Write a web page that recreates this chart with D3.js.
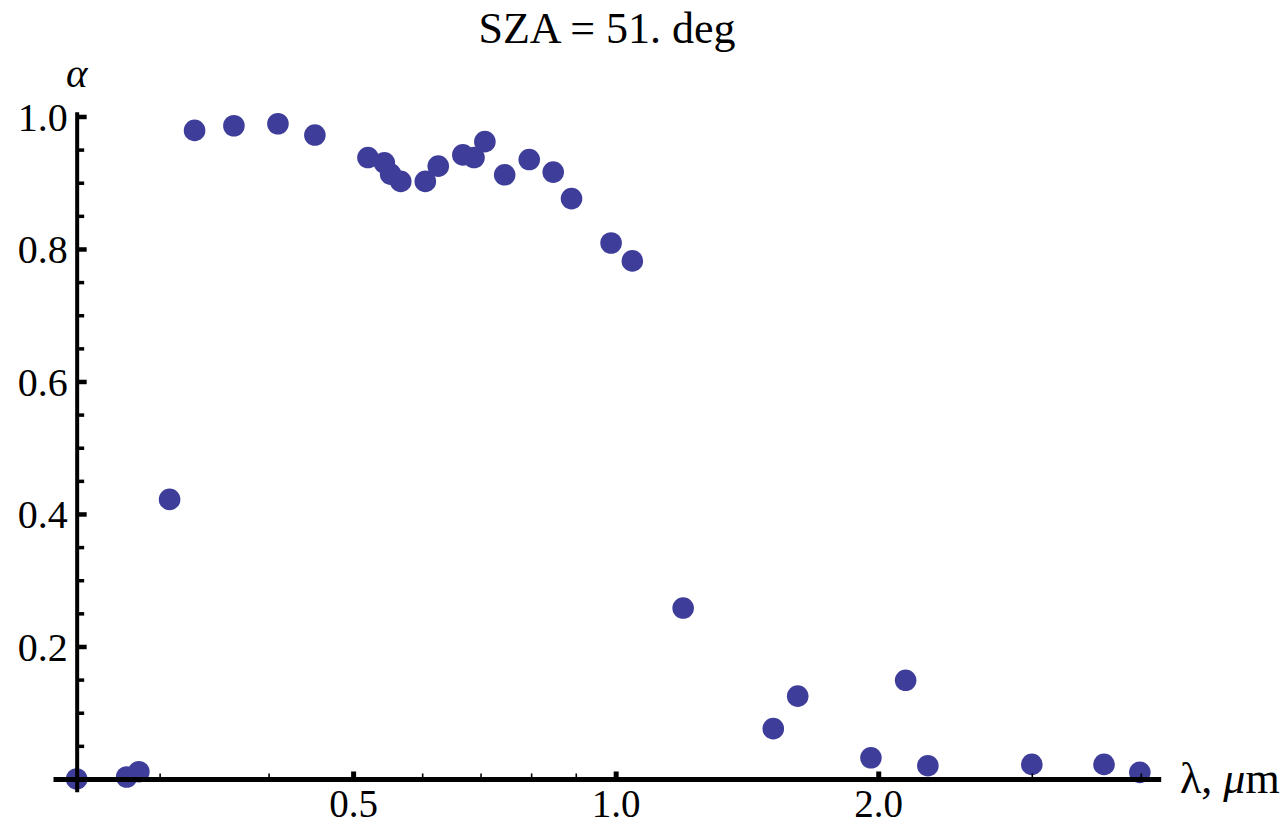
<!DOCTYPE html>
<html>
<head>
<meta charset="utf-8">
<script src="https://cdn.jsdelivr.net/npm/d3@7"></script>
<style>
  html, body { margin: 0; padding: 0; background: #fff; }
  svg { display: block; }
</style>
</head>
<body>
<svg id="chart" width="1285" height="825"></svg>
<script>
// ---- data ----
const wavelength = [0.241, 0.275, 0.284, 0.308, 0.329, 0.365, 0.410, 0.452,
  0.520, 0.543, 0.552, 0.567, 0.605, 0.626, 0.668, 0.688, 0.708, 0.746,
  0.796, 0.848, 0.890, 0.988, 1.045, 1.195, 1.516, 1.617, 1.962, 2.150,
  2.280, 3.000, 3.630, 3.990];
const alpha = [0.000, 0.003, 0.011, 0.422, 0.979, 0.986, 0.989, 0.972,
  0.938, 0.930, 0.913, 0.902, 0.902, 0.925, 0.942, 0.938, 0.962, 0.912,
  0.935, 0.916, 0.876, 0.809, 0.782, 0.258, 0.076, 0.125, 0.032, 0.149,
  0.020, 0.022, 0.022, 0.010];
const xMajorTicks = [0.5, 1.0, 2.0];
const xMinorTicks = [0.3, 0.4, 0.6, 0.7, 0.8, 0.9, 3.0, 4.0];
const yMajorTicks = [0.2, 0.4, 0.6, 0.8, 1.0];
const yMinorTicks = [0.05, 0.1, 0.15, 0.25, 0.3, 0.35, 0.45, 0.5, 0.55,
  0.65, 0.7, 0.75, 0.85, 0.9, 0.95];
const xDomain = [0.2264, 4.216];
const yDomain = [-0.0192, 1.0072];
const xAxisOrigin = 0.241;
const titleText = "SZA = 51. deg";

// ---- layout ----
const FONT = '"Liberation Serif", Tinos, "Times New Roman", "DejaVu Serif", serif';
const svg = d3.select("#chart");
const x = d3.scaleLog().domain(xDomain).range([53, 1160.7]);
const y = d3.scaleLinear().domain(yDomain).range([791.7, 111.7]);
const color = "rgb(62,62,154)";

// points
svg.append("g").selectAll("circle")
  .data(wavelength.map((w, i) => ({w, a: alpha[i]})))
  .join("circle")
  .attr("cx", d => x(d.w))
  .attr("cy", d => y(d.a))
  .attr("r", 10.8)
  .attr("fill", color);

// x axis (major)
const gx = svg.append("g").attr("transform", `translate(0,${y(0)})`);
gx.call(d3.axisBottom(x).tickValues(xMajorTicks)
  .tickFormat(d3.format(".1f")).tickSize(-7.5).tickSizeOuter(0).tickPadding(10));
gx.attr("font-family", FONT).attr("font-size", 39);
gx.select(".domain").attr("stroke", "#000").attr("stroke-width", 5);
gx.selectAll(".tick line").attr("stroke", "#000").attr("stroke-width", 5);
gx.selectAll(".tick text").attr("fill", "#000");

// x axis (minor)
const gxm = svg.append("g").attr("transform", `translate(0,${y(0)})`);
gxm.call(d3.axisBottom(x).tickValues(xMinorTicks).tickFormat("").tickSize(-5.5).tickSizeOuter(0));
gxm.select(".domain").remove();
gxm.selectAll(".tick line").attr("stroke", "#000").attr("stroke-width", 1.6);

// y axis (major)
const gy = svg.append("g").attr("transform", `translate(${x(xAxisOrigin)},0)`);
gy.call(d3.axisLeft(y).tickValues(yMajorTicks)
  .tickFormat(d3.format(".1f")).tickSize(-10).tickSizeOuter(0).tickPadding(9));
gy.attr("font-family", FONT).attr("font-size", 40);
gy.select(".domain").attr("stroke", "#000").attr("stroke-width", 4);
gy.selectAll(".tick line").attr("stroke", "#000").attr("stroke-width", 4.5);
gy.selectAll(".tick text").attr("fill", "#000").attr("dy", "0.34em");

// y axis (minor)
const gym = svg.append("g").attr("transform", `translate(${x(xAxisOrigin)},0)`);
gym.call(d3.axisLeft(y).tickValues(yMinorTicks).tickFormat("").tickSize(-7.5).tickSizeOuter(0));
gym.select(".domain").remove();
gym.selectAll(".tick line").attr("stroke", "#000").attr("stroke-width", 3.5);

// axis labels
svg.append("text")
  .attr("x", x(xAxisOrigin)).attr("y", 87)
  .attr("text-anchor", "middle")
  .attr("font-family", FONT)
  .attr("font-size", 41).attr("font-style", "italic")
  .text("α");

const xl = svg.append("text")
  .attr("x", 1180).attr("y", 793)
  .attr("font-family", FONT)
  .attr("font-size", 44);
xl.append("tspan").text("λ, ");
xl.append("tspan").attr("font-style", "italic").text("μ");
xl.append("tspan").text("m");

// title
svg.append("text")
  .attr("x", 607).attr("y", 43)
  .attr("text-anchor", "middle")
  .attr("font-family", FONT)
  .attr("font-size", 44)
  .text(titleText);
</script>
</body>
</html>
